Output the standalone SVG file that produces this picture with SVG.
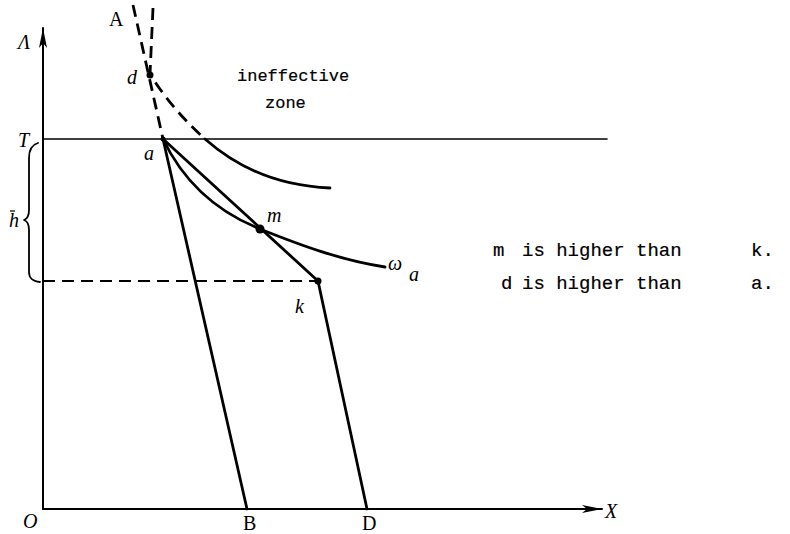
<svg xmlns="http://www.w3.org/2000/svg" width="790" height="534" viewBox="0 0 790 534">
<style>
.ln{fill:none;stroke:#000;stroke-linecap:round;stroke-linejoin:round}
.ax{stroke-width:2}
.th{stroke-width:2.8}
.dash{stroke-dasharray:12 7;stroke-linecap:butt}
.lbl{font-family:"Liberation Serif","Times New Roman",serif;font-size:20px;fill:#000}
.it{font-style:italic}
.mono{font-family:"Liberation Mono","Courier New",monospace;fill:#000;stroke:#000;stroke-width:0.2}
.zone{font-size:17px}
.note{font-size:19px}
</style>
<defs>
<marker id="arr" markerWidth="20" markerHeight="10" refX="20" refY="5" orient="auto" markerUnits="userSpaceOnUse">
<path d="M0,1 L20,5 L0,9 L5,5 Z" fill="#000"/>
</marker>
</defs>
<rect width="790" height="534" fill="#fff"/>
<g id="connectors">
<line class="ln ax" x1="43" y1="509" x2="43" y2="28" marker-end="url(#arr)"/>
<line class="ln ax" x1="43" y1="509" x2="602" y2="509" marker-end="url(#arr)"/>
<line class="ln" stroke-width="1.6" x1="43" y1="139" x2="607" y2="139"/>
<line class="ln ax dash" x1="43" y1="281" x2="318" y2="281"/>
<line class="ln th dash" x1="133" y1="5" x2="163" y2="139"/>
<line class="ln th" x1="163" y1="139" x2="247" y2="509"/>
<path class="ln th dash" d="M153,8 L150,74 C166,100 186,122 205,139"/>
<path class="ln th" d="M205,139 C240,170 280,186 330,188"/>
<path class="ln th" d="M163,139 C185,185 220,213 260,229 C300,245 340,260 385,267"/>
<line class="ln th" x1="163" y1="139" x2="318" y2="281"/>
<line class="ln th" x1="318" y1="281" x2="367" y2="509"/>
<path class="ln" stroke-width="1.8" d="M38,143 C31,145 29,150 29,158 L29,210 C29,216 27,219 24,220 C27,221 29,224 29,230 L29,272 C29,278 32,281 40,282"/>
</g>
<g id="point-d"><circle cx="150" cy="75" r="3.5"/><text class="lbl it" x="127" y="84">d</text></g>
<g id="point-a"><circle cx="163" cy="139" r="2.5"/><text class="lbl it" x="144" y="160">a</text></g>
<g id="point-m"><circle cx="260" cy="229" r="4.5"/><text class="lbl it" x="267" y="222">m</text></g>
<g id="point-k"><circle cx="318" cy="281" r="3.5"/><text class="lbl it" x="295" y="313">k</text></g>
<g id="label-A"><text class="lbl" x="109" y="26">A</text></g>
<g id="label-lambda"><text class="lbl it" x="18" y="49">Λ</text></g>
<g id="label-T"><text class="lbl it" x="18" y="147">T</text></g>
<g id="label-h"><text class="lbl it" x="9" y="227">h</text><line x1="10" y1="211" x2="15" y2="211" stroke="#000" stroke-width="1.2"/></g>
<g id="label-omega"><text class="lbl it" x="388" y="270">ω</text><text class="lbl it" x="409" y="281">a</text></g>
<g id="label-O"><text class="lbl it" x="23" y="528">O</text></g>
<g id="label-B"><text class="lbl" x="243" y="530">B</text></g>
<g id="label-D"><text class="lbl" x="362" y="530">D</text></g>
<g id="label-X"><text class="lbl it" x="605" y="518">X</text></g>
<g id="zone-text"><text class="mono zone"><tspan x="237" y="81">ineffective</tspan><tspan x="265" y="108">zone</tspan></text></g>
<g id="note-m"><text class="mono note" y="256"><tspan x="493">m</tspan><tspan x="522">is higher than</tspan><tspan x="751">k.</tspan></text></g>
<g id="note-d"><text class="mono note" y="289"><tspan x="501">d</tspan><tspan x="522">is higher than</tspan><tspan x="751">a.</tspan></text></g>
</svg>
